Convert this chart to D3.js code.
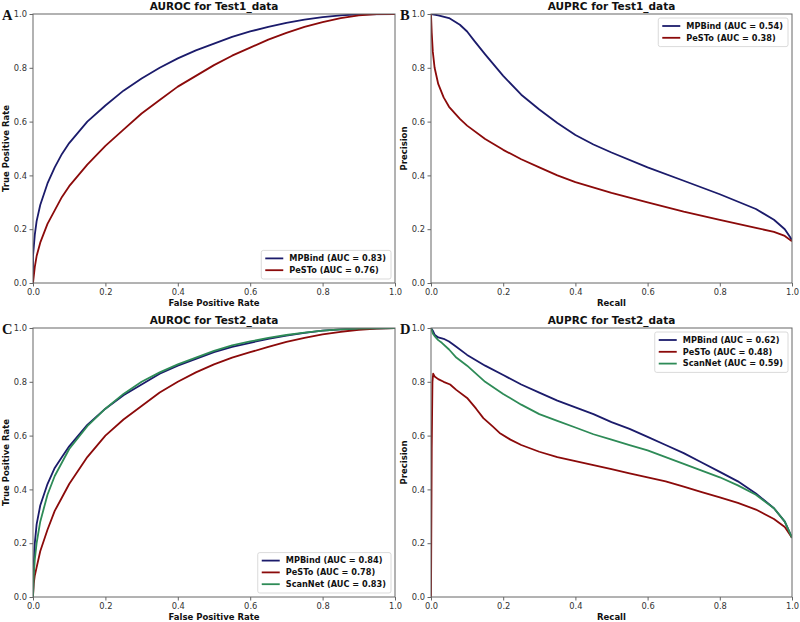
<!DOCTYPE html>
<html>
<head>
<meta charset="utf-8">
<script src="https://cdn.jsdelivr.net/npm/d3@7"></script>
<style>
  body { margin: 0; background: #fff; }
  svg { display: block; font-family: "DejaVu Sans", sans-serif; }
</style>
</head>
<body>
<div id="chart"></div>
<script>
// ---- data (x, y pairs) ----
var ticks = [0, 0.2, 0.4, 0.6, 0.8, 1.0];
var seriesNames = ["MPBind", "PeSTo", "ScanNet"];
var seriesColors = ["#1b1b6b", "#8b0a0a", "#2e8b57"];

// A: ROC on Test1_data
var rocTest1MPBind = [[0,0],[0,0.1],[0.005,0.18],[0.01,0.23],[0.02,0.29],[0.04,0.37],[0.06,0.43],[0.08,0.48],[0.1,0.52],[0.15,0.6],[0.2,0.66],[0.25,0.715],[0.3,0.76],[0.35,0.8],[0.4,0.835],[0.45,0.865],[0.5,0.89],[0.55,0.915],[0.6,0.935],[0.65,0.952],[0.7,0.967],[0.75,0.979],[0.8,0.988],[0.85,0.995],[0.9,0.999],[1,1]];
var rocTest1PeSTo = [[0,0],[0.005,0.06],[0.01,0.1],[0.02,0.15],[0.04,0.22],[0.06,0.27],[0.08,0.32],[0.1,0.36],[0.15,0.44],[0.2,0.51],[0.25,0.57],[0.3,0.63],[0.35,0.68],[0.4,0.73],[0.45,0.77],[0.5,0.81],[0.55,0.845],[0.6,0.875],[0.65,0.905],[0.7,0.93],[0.75,0.952],[0.8,0.97],[0.85,0.985],[0.9,0.995],[0.95,1],[1,1]];
var aucTest1Roc = [0.83, 0.76];

// B: PR on Test1_data
var prTest1MPBind = [[0,1],[0.02,0.995],[0.05,0.985],[0.08,0.96],[0.1,0.935],[0.12,0.9],[0.15,0.85],[0.2,0.77],[0.25,0.7],[0.3,0.645],[0.35,0.595],[0.4,0.55],[0.45,0.515],[0.5,0.485],[0.6,0.43],[0.7,0.38],[0.8,0.33],[0.9,0.275],[0.95,0.235],[0.98,0.2],[1,0.16]];
var prTest1PeSTo = [[0,1],[0.002,0.93],[0.005,0.86],[0.01,0.8],[0.02,0.74],[0.035,0.69],[0.05,0.655],[0.08,0.61],[0.1,0.585],[0.15,0.535],[0.2,0.495],[0.25,0.46],[0.3,0.43],[0.35,0.4],[0.4,0.375],[0.5,0.335],[0.6,0.3],[0.7,0.265],[0.8,0.235],[0.9,0.205],[0.95,0.19],[0.98,0.175],[1,0.155]];
var aucTest1Pr = [0.54, 0.38];

// C: ROC on Test2_data
var rocTest2MPBind = [[0,0],[0.002,0.12],[0.005,0.2],[0.01,0.27],[0.02,0.34],[0.04,0.42],[0.06,0.48],[0.08,0.52],[0.1,0.56],[0.15,0.64],[0.2,0.7],[0.25,0.75],[0.3,0.79],[0.35,0.83],[0.4,0.86],[0.45,0.885],[0.5,0.91],[0.55,0.93],[0.6,0.945],[0.65,0.96],[0.7,0.972],[0.75,0.982],[0.8,0.99],[0.85,0.995],[0.9,0.998],[1,1]];
var rocTest2PeSTo = [[0,0],[0.002,0.05],[0.005,0.08],[0.01,0.11],[0.02,0.17],[0.04,0.25],[0.06,0.32],[0.08,0.37],[0.1,0.42],[0.15,0.52],[0.2,0.6],[0.25,0.66],[0.3,0.71],[0.35,0.76],[0.4,0.8],[0.45,0.835],[0.5,0.865],[0.55,0.89],[0.6,0.91],[0.65,0.93],[0.7,0.948],[0.75,0.963],[0.8,0.976],[0.85,0.986],[0.9,0.993],[0.95,0.998],[1,1]];
var rocTest2ScanNet = [[0,0],[0.002,0.08],[0.005,0.14],[0.01,0.2],[0.02,0.28],[0.04,0.38],[0.06,0.45],[0.08,0.5],[0.1,0.55],[0.15,0.635],[0.2,0.7],[0.25,0.755],[0.3,0.8],[0.35,0.835],[0.4,0.865],[0.45,0.89],[0.5,0.915],[0.55,0.935],[0.6,0.95],[0.65,0.963],[0.7,0.974],[0.75,0.983],[0.8,0.99],[0.85,0.995],[0.9,0.998],[1,1]];
var aucTest2Roc = [0.84, 0.78, 0.83];

// D: PR on Test2_data
var prTest2MPBind = [[0,1],[0.005,0.99],[0.01,0.975],[0.02,0.965],[0.035,0.96],[0.05,0.95],[0.07,0.93],[0.1,0.9],[0.15,0.86],[0.2,0.825],[0.25,0.79],[0.3,0.76],[0.35,0.73],[0.4,0.705],[0.45,0.68],[0.5,0.65],[0.55,0.625],[0.6,0.595],[0.65,0.565],[0.7,0.535],[0.75,0.5],[0.8,0.465],[0.85,0.43],[0.9,0.385],[0.95,0.33],[0.98,0.28],[1,0.22]];
var prTest2PeSTo = [[0,0],[0.002,0.55],[0.004,0.8],[0.006,0.83],[0.01,0.82],[0.02,0.81],[0.035,0.8],[0.053,0.79],[0.07,0.77],[0.1,0.74],[0.125,0.7],[0.145,0.665],[0.17,0.635],[0.19,0.61],[0.22,0.585],[0.25,0.565],[0.3,0.54],[0.35,0.52],[0.4,0.505],[0.45,0.49],[0.5,0.475],[0.55,0.46],[0.6,0.445],[0.65,0.43],[0.7,0.41],[0.75,0.39],[0.8,0.37],[0.85,0.35],[0.9,0.325],[0.95,0.29],[0.98,0.26],[1,0.22]];
var prTest2ScanNet = [[0,1],[0.005,0.98],[0.01,0.97],[0.02,0.955],[0.03,0.945],[0.05,0.92],[0.07,0.89],[0.1,0.86],[0.15,0.8],[0.2,0.755],[0.25,0.715],[0.3,0.68],[0.35,0.655],[0.4,0.63],[0.45,0.605],[0.5,0.585],[0.55,0.565],[0.6,0.545],[0.65,0.52],[0.7,0.495],[0.75,0.47],[0.8,0.445],[0.85,0.415],[0.9,0.38],[0.95,0.33],[0.98,0.28],[1,0.22]];
var aucTest2Pr = [0.62, 0.48, 0.59];

var W = 800, H = 622;
var svg = d3.select("#chart").append("svg").attr("width", W).attr("height", H);

// one panel = one axes box
function drawPanel(p) {
    var x = d3.scaleLinear().domain([0, 1]).range([p.left, p.right]);
    var y = d3.scaleLinear().domain([0, 1]).range([p.bottom, p.top]);
    var g = svg.append("g");

    g.append("clipPath").attr("id", "clip" + p.letter)
     .append("rect").attr("x", p.left).attr("y", p.top)
     .attr("width", p.right - p.left).attr("height", p.bottom - p.top);

    var line = d3.line().x(function(d){ return x(d[0]); }).y(function(d){ return y(d[1]); });
    g.append("g").attr("clip-path", "url(#clip" + p.letter + ")")
     .selectAll("path").data(p.series).enter().append("path")
     .attr("d", function(s){ return line(s.values); })
     .attr("fill", "none")
     .attr("stroke", function(s){ return s.color; })
     .attr("stroke-width", 1.8)
     .attr("stroke-linejoin", "round");

    // spines
    g.append("rect").attr("x", p.left).attr("y", p.top)
     .attr("width", p.right - p.left).attr("height", p.bottom - p.top)
     .attr("fill", "none").attr("stroke", "#666").attr("stroke-width", 1);

    var fmt = d3.format(".1f");
    var xa = g.append("g").attr("transform", "translate(0," + p.bottom + ")")
        .call(d3.axisBottom(x).tickValues(ticks).tickFormat(fmt).tickSize(3.5).tickPadding(2.5));
    var ya = g.append("g").attr("transform", "translate(" + p.left + ",0)")
        .call(d3.axisLeft(y).tickValues(ticks).tickFormat(fmt).tickSize(3.5).tickPadding(2.5));
    [xa, ya].forEach(function(a){
        a.select(".domain").remove();
        a.selectAll(".tick line").attr("stroke", "#666");
        a.selectAll(".tick text").attr("fill", "#333").style("font-size", "8.3px")
         .style("font-family", "DejaVu Sans");
    });

    g.append("text").attr("x", (p.left + p.right) / 2).attr("y", p.top - 4)
     .attr("text-anchor", "middle").style("font-size", "10.5px").style("font-weight", "bold")
     .attr("fill", "#111").text(p.title);
    g.append("text").attr("x", (p.left + p.right) / 2).attr("y", p.bottom + 23)
     .attr("text-anchor", "middle").style("font-size", "8.5px").style("font-weight", "bold")
     .attr("fill", "#111").text(p.xLabel);
    g.append("text").attr("transform", "translate(" + (p.left - 24) + "," + ((p.top + p.bottom) / 2) + ") rotate(-90)")
     .attr("text-anchor", "middle").style("font-size", "8.5px").style("font-weight", "bold")
     .attr("fill", "#111").text(p.yLabel);

    g.append("text").attr("x", p.left - 31).attr("y", p.top + 6)
     .style("font-family", "Liberation Serif").style("font-size", "14.5px").style("font-weight", "bold")
     .attr("fill", "#111").text(p.letter);

    // legend
    var rowH = 11.8, lg = g.append("g");
    var items = lg.selectAll("g").data(p.series).enter().append("g");
    items.append("line").attr("x1", 4).attr("x2", 22)
     .attr("y1", function(s, i){ return 8 + i * rowH; }).attr("y2", function(s, i){ return 8 + i * rowH; })
     .attr("stroke", function(s){ return s.color; }).attr("stroke-width", 1.8);
    var texts = items.append("text").attr("x", 28).attr("y", function(s, i){ return 8 + i * rowH; })
     .attr("dy", "0.35em").style("font-size", "8.2px").style("font-weight", "bold").attr("fill", "#111")
     .text(function(s){ return s.name + " (AUC = " + s.auc.toFixed(2) + ")"; });
    var tw = 0;
    texts.each(function(){ tw = Math.max(tw, this.getComputedTextLength()); });
    var bw = 28 + tw + 5, bh = 4 + p.series.length * rowH + 1;
    lg.insert("rect", ":first-child").attr("width", bw).attr("height", bh).attr("rx", 2)
     .attr("fill", "#fff").attr("fill-opacity", 0.85).attr("stroke", "#d0d0d0").attr("stroke-width", 0.8);
    var lx = p.right - 4 - bw;
    var ly = p.legendPos === "lower" ? p.bottom - 4 - bh : p.top + 4;
    lg.attr("transform", "translate(" + lx + "," + ly + ")");
}

function makeSeries(list, aucs) {
    return list.map(function(v, i){ return { name: seriesNames[i], color: seriesColors[i], auc: aucs[i], values: v }; });
}

drawPanel({ letter: "A", left: 33, right: 395, top: 14, bottom: 283, title: "AUROC for Test1_data",
    xLabel: "False Positive Rate", yLabel: "True Positive Rate", legendPos: "lower",
    series: makeSeries([rocTest1MPBind, rocTest1PeSTo], aucTest1Roc) });
drawPanel({ letter: "B", left: 431, right: 792, top: 14, bottom: 283, title: "AUPRC for Test1_data",
    xLabel: "Recall", yLabel: "Precision", legendPos: "upper",
    series: makeSeries([prTest1MPBind, prTest1PeSTo], aucTest1Pr) });
drawPanel({ letter: "C", left: 33, right: 395, top: 328, bottom: 597, title: "AUROC for Test2_data",
    xLabel: "False Positive Rate", yLabel: "True Positive Rate", legendPos: "lower",
    series: makeSeries([rocTest2MPBind, rocTest2PeSTo, rocTest2ScanNet], aucTest2Roc) });
drawPanel({ letter: "D", left: 431, right: 792, top: 328, bottom: 597, title: "AUPRC for Test2_data",
    xLabel: "Recall", yLabel: "Precision", legendPos: "upper",
    series: makeSeries([prTest2MPBind, prTest2PeSTo, prTest2ScanNet], aucTest2Pr) });
</script>
</body>
</html>
